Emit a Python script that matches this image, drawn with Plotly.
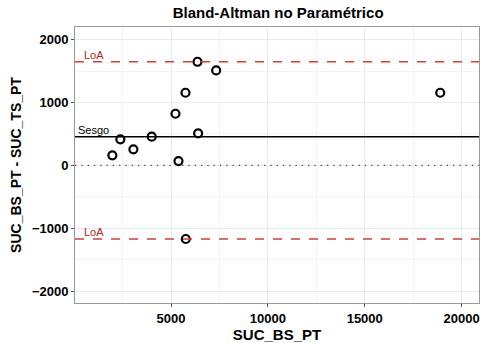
import plotly.graph_objects as go

x_vals = [1969, 2383, 3055, 4002, 5228, 5383, 5745, 5760, 6365, 6397, 7328, 18898]
y_vals = [159, 413, 254, 455, 820, 68, 1154, -1172, 1647, 509, 1510, 1154]
bias = 455
loa_upper = 1647
loa_lower = -1172
x_ticks = [5000, 10000, 15000, 20000]
x_tick_labels = ["5000", "10000", "15000", "20000"]
y_ticks = [-2000, -1000, 0, 1000, 2000]
y_tick_labels = ["\u22122000", "\u22121000", "0", "1000", "2000"]

fig = go.Figure()
fig.add_hline(y=0, line=dict(color="#444444", width=1.3, dash="1.3px,5px"), layer="above")
fig.add_hline(y=bias, line=dict(color="black", width=1.4))
for v in (loa_upper, loa_lower):
    fig.add_hline(y=v, line=dict(color="#cc4040", width=1.4, dash="dash"))
    fig.add_annotation(x=1000, y=v, text="LoA", showarrow=False, yanchor="bottom", yshift=-1,
                       font=dict(family="Liberation Sans", size=11, color="#b22222"))
fig.add_annotation(x=1000, y=bias, text="Sesgo", showarrow=False, yanchor="bottom", yshift=-1,
                   font=dict(family="Liberation Sans", size=11, color="black"))

fig.add_trace(go.Scatter(
    x=x_vals, y=y_vals, mode="markers",
    marker=dict(symbol="circle-open", size=8, color="black", line=dict(width=2.2, color="black")),
    showlegend=False, hoverinfo="skip"))

axis_common = dict(
    showline=True, linecolor="#999999", linewidth=1, mirror=True,
    showgrid=True, gridcolor="#ebebeb", gridwidth=1,
    ticks="outside", ticklen=3, tickcolor="#555555",
    tickfont=dict(family="Liberation Sans", size=13, color="black", weight="bold"),
    zeroline=False,
)

fig.update_xaxes(range=[40, 20900], tickvals=x_ticks, ticktext=x_tick_labels,
                 minor=dict(dtick=2500, tick0=0, showgrid=True, gridcolor="#f4f4f4", ticks=""),
                 title=dict(text="SUC_BS_PT", standoff=4,
                            font=dict(family="Liberation Sans", size=15, color="black", weight="bold")),
                 **axis_common)
fig.update_yaxes(range=[-2190, 2200], tickvals=y_ticks, ticktext=y_tick_labels,
                 minor=dict(dtick=500, tick0=0, showgrid=True, gridcolor="#f4f4f4", ticks=""),
                 title=dict(text="SUC_BS_PT - SUC_TS_PT", standoff=6,
                            font=dict(family="Liberation Sans", size=14, color="black", weight="bold")),
                 **axis_common)

fig.update_layout(
    width=482, height=343,
    margin=dict(l=75, r=3, t=27, b=40),
    paper_bgcolor="white", plot_bgcolor="white",
    title=dict(text="Bland-Altman no Paramétrico", x=0.577, xanchor="center", y=0.962, yanchor="middle",
               font=dict(family="Liberation Sans", size=15, color="black", weight="bold")),
)

fig.write_html("out.html")
